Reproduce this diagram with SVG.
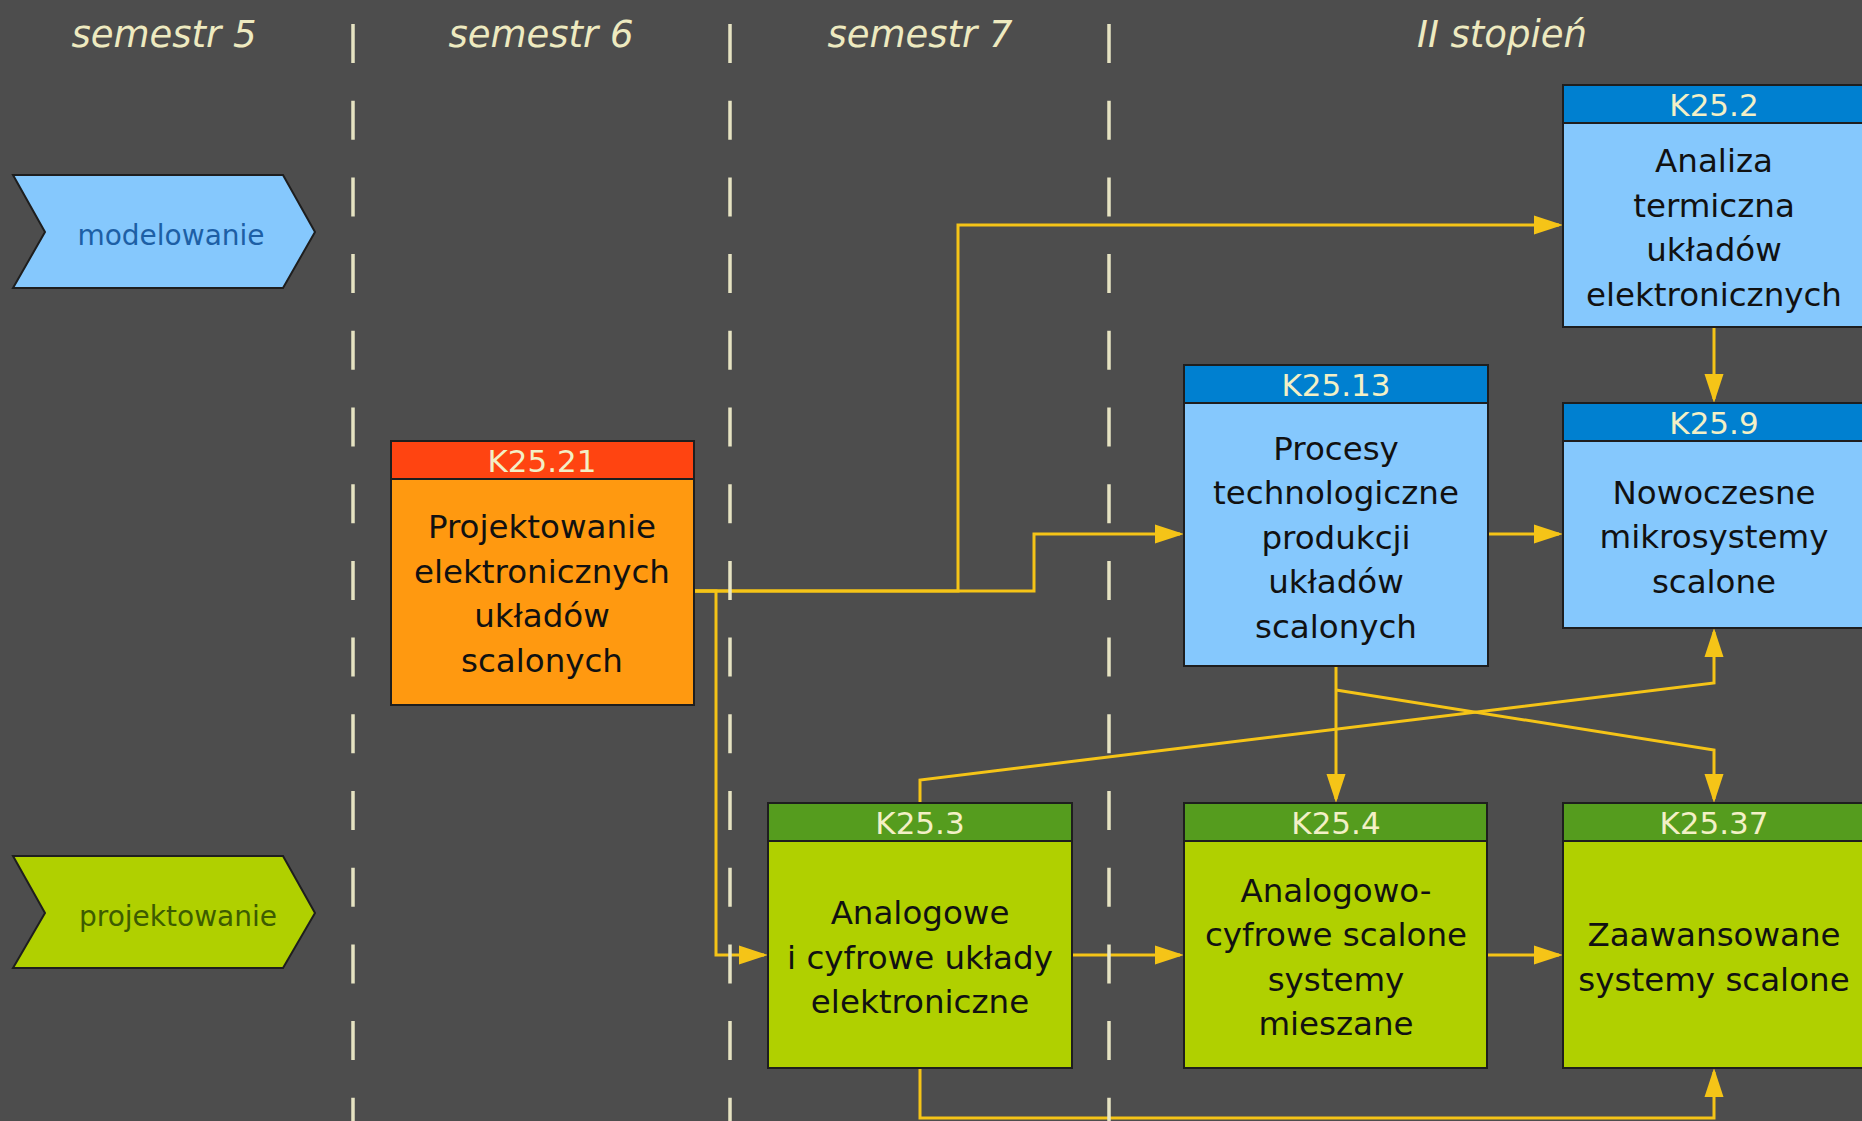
<svg xmlns="http://www.w3.org/2000/svg" width="1862" height="1121" viewBox="0 0 1862 1121">
<style>
.sem{font-family:"DejaVu Sans",Verdana,sans-serif;font-style:italic;font-size:37px;fill:#eeeac0;text-anchor:middle}
.hd{font-family:"DejaVu Sans",Verdana,sans-serif;font-size:31px;fill:#f3f0c6;text-anchor:middle}
.bd{font-family:"DejaVu Sans",Verdana,sans-serif;font-size:32.5px;fill:#111;text-anchor:middle}
.chev{font-family:"DejaVu Sans",Verdana,sans-serif;font-size:28px;text-anchor:middle}
.box{stroke:#1e1e1e;stroke-width:2}
.con{fill:none;stroke:#f5c417;stroke-width:3;stroke-linejoin:miter}
.arr{marker-end:url(#ah)}
.dash{stroke:#e6e3c2;stroke-width:3.5;stroke-dasharray:39 37.7}
.red{fill:#ff4411}.org{fill:#ff9910}
.blu{fill:#0080d0}.lbl{fill:#85c8fd}
.grn{fill:#559c1e}.lim{fill:#b0d000}
</style>
<defs>
<marker id="ah" markerUnits="userSpaceOnUse" markerWidth="30" markerHeight="20" refX="25" refY="10" orient="auto">
<path d="M0,0.5 L29,10 L0,19.5 z" fill="#f5c417"/>
</marker>
</defs>
<rect x="0" y="0" width="1862" height="1121" fill="#4d4d4d"/>

<g id="headers">
<text class="sem" x="164" y="47">semestr 5</text>
<text class="sem" x="541" y="47">semestr 6</text>
<text class="sem" x="920" y="47">semestr 7</text>
<text class="sem" x="1502" y="47">II stopień</text>
</g>

<g id="lane-modelowanie">
<path d="M13,175 L283,175 L315,232 L283,288 L13,288 L45,232 z" fill="#85c8fd" stroke="#1e1e1e" stroke-width="2"/>
<text class="chev" x="171" y="245" fill="#1d5fa5">modelowanie</text>
</g>
<g id="lane-projektowanie">
<path d="M13,856 L283,856 L315,913 L283,968 L13,968 L45,913 z" fill="#b0d000" stroke="#1e1e1e" stroke-width="2"/>
<text class="chev" x="178" y="926" fill="#3d5c00">projektowanie</text>
</g>

<g id="connectors">
<path class="con arr" d="M694,591 L958,591 L958,225 L1559,225"/>
<path class="con arr" d="M694,591 L1034,591 L1034,534 L1180,534"/>
<path class="con arr" d="M694,591 L716,591 L716,955 L764,955"/>
<path class="con arr" d="M1714,327 L1714,399"/>
<path class="con arr" d="M1488,534 L1559,534"/>
<path class="con arr" d="M1336,666 L1336,799"/>
<path class="con arr" d="M1336,690 L1714,750 L1714,799"/>
<path class="con arr" d="M920,803 L920,780 L1714,683 L1714,632"/>
<path class="con arr" d="M1072,955 L1180,955"/>
<path class="con arr" d="M1487,955 L1559,955"/>
<path class="con arr" d="M920,1068 L920,1118 L1714,1118 L1714,1072"/>
</g>

<g id="dividers">
<line class="dash" x1="353" y1="24" x2="353" y2="1121"/>
<line class="dash" x1="730" y1="24" x2="730" y2="1121"/>
<line class="dash" x1="1109" y1="24" x2="1109" y2="1121"/>
</g>

<g id="K25.21">
<rect class="box org" x="391" y="441" width="303" height="264"/>
<rect class="box red" x="391" y="441" width="303" height="38"/>
<text class="hd" x="542" y="472">K25.21</text>
<text class="bd" x="542" y="538">Projektowanie</text>
<text class="bd" x="542" y="582.5">elektronicznych</text>
<text class="bd" x="542" y="627">układów</text>
<text class="bd" x="542" y="671.5">scalonych</text>
</g>

<g id="K25.2">
<rect class="box lbl" x="1563" y="85" width="303" height="242"/>
<rect class="box blu" x="1563" y="85" width="303" height="38"/>
<text class="hd" x="1714" y="116">K25.2</text>
<text class="bd" x="1714" y="172">Analiza</text>
<text class="bd" x="1714" y="216.5">termiczna</text>
<text class="bd" x="1714" y="261">układów</text>
<text class="bd" x="1714" y="305.5">elektronicznych</text>
</g>

<g id="K25.13">
<rect class="box lbl" x="1184" y="365" width="304" height="301"/>
<rect class="box blu" x="1184" y="365" width="304" height="38"/>
<text class="hd" x="1336" y="396">K25.13</text>
<text class="bd" x="1336" y="459.5">Procesy</text>
<text class="bd" x="1336" y="504">technologiczne</text>
<text class="bd" x="1336" y="548.5">produkcji</text>
<text class="bd" x="1336" y="593">układów</text>
<text class="bd" x="1336" y="637.5">scalonych</text>
</g>

<g id="K25.9">
<rect class="box lbl" x="1563" y="403" width="303" height="225"/>
<rect class="box blu" x="1563" y="403" width="303" height="38"/>
<text class="hd" x="1714" y="434">K25.9</text>
<text class="bd" x="1714" y="503.5">Nowoczesne</text>
<text class="bd" x="1714" y="548">mikrosystemy</text>
<text class="bd" x="1714" y="592.5">scalone</text>
</g>

<g id="K25.3">
<rect class="box lim" x="768" y="803" width="304" height="265"/>
<rect class="box grn" x="768" y="803" width="304" height="38"/>
<text class="hd" x="920" y="834">K25.3</text>
<text class="bd" x="920" y="924">Analogowe</text>
<text class="bd" x="920" y="968.5">i cyfrowe układy</text>
<text class="bd" x="920" y="1013">elektroniczne</text>
</g>

<g id="K25.4">
<rect class="box lim" x="1184" y="803" width="303" height="265"/>
<rect class="box grn" x="1184" y="803" width="303" height="38"/>
<text class="hd" x="1336" y="834">K25.4</text>
<text class="bd" x="1336" y="901.5">Analogowo-</text>
<text class="bd" x="1336" y="946">cyfrowe scalone</text>
<text class="bd" x="1336" y="990.5">systemy</text>
<text class="bd" x="1336" y="1035">mieszane</text>
</g>

<g id="K25.37">
<rect class="box lim" x="1563" y="803" width="303" height="265"/>
<rect class="box grn" x="1563" y="803" width="303" height="38"/>
<text class="hd" x="1714" y="834">K25.37</text>
<text class="bd" x="1714" y="946">Zaawansowane</text>
<text class="bd" x="1714" y="990.5">systemy scalone</text>
</g>
</svg>
